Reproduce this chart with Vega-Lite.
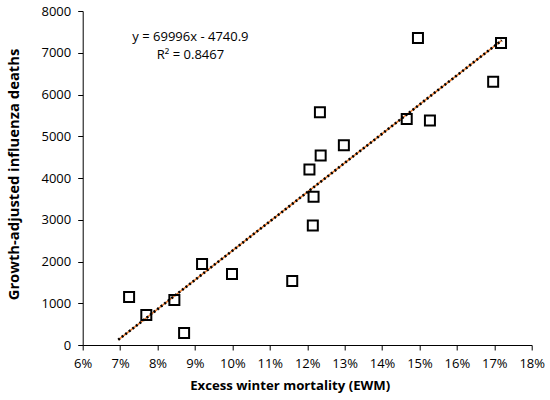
{
  "$schema": "https://vega.github.io/schema/vega-lite/v6.json",
  "width": 449,
  "height": 334,
  "autosize": "none",
  "padding": {"left": 82.7, "top": 11, "right": 18.3, "bottom": 55},
  "background": "white",
  "config": {
    "view": {"stroke": null},
    "font": "Open Sans",
    "axis": {
      "grid": false,
      "domainColor": "#000000",
      "tickColor": "#000000",
      "labelColor": "#000000",
      "titleColor": "#000000",
      "labelFont": "Open Sans",
      "titleFont": "Open Sans",
      "labelFontSize": 13,
      "labelOverlap": false,
      "labelFlush": false,
      "titleFontWeight": "bold",
      "tickSize": 5,
      "domainWidth": 1,
      "tickWidth": 1
    }
  },
  "datasets": {
    "points": [
      {"ewm": 0.0724, "deaths": 1148},
      {"ewm": 0.0770, "deaths": 718},
      {"ewm": 0.0845, "deaths": 1077},
      {"ewm": 0.0871, "deaths": 287},
      {"ewm": 0.0919, "deaths": 1938},
      {"ewm": 0.0999, "deaths": 1699},
      {"ewm": 0.1160, "deaths": 1531},
      {"ewm": 0.1206, "deaths": 4203},
      {"ewm": 0.1217, "deaths": 3548},
      {"ewm": 0.1215, "deaths": 2864},
      {"ewm": 0.1234, "deaths": 5574},
      {"ewm": 0.1236, "deaths": 4538},
      {"ewm": 0.1298, "deaths": 4785},
      {"ewm": 0.1466, "deaths": 5414},
      {"ewm": 0.1496, "deaths": 7352},
      {"ewm": 0.1528, "deaths": 5375},
      {"ewm": 0.1697, "deaths": 6308},
      {"ewm": 0.1718, "deaths": 7232}
    ],
    "trend": [
      {"ewm": 0.0695, "deaths": 124},
      {"ewm": 0.1720, "deaths": 7298}
    ],
    "labels": [
      {"ewm": 0.0888, "deaths": 7368, "text": "y = 69996x - 4740.9"},
      {"ewm": 0.0888, "deaths": 6935, "text": "R² = 0.8467"}
    ]
  },
  "encoding": {
    "x": {
      "field": "ewm",
      "type": "quantitative",
      "scale": {"domain": [0.06, 0.18], "nice": false, "zero": false},
      "axis": {
        "title": "Excess winter mortality (EWM)",
        "titleFontSize": 13.2,
        "titleX": 207,
        "format": ".0%",
        "values": [0.06, 0.07, 0.08, 0.09, 0.10, 0.11, 0.12, 0.13, 0.14, 0.15, 0.16, 0.17, 0.18],
        "labelPadding": 7,
        "titlePadding": 9
      }
    },
    "y": {
      "field": "deaths",
      "type": "quantitative",
      "scale": {"domain": [0, 8000], "nice": false},
      "axis": {
        "title": "Growth-adjusted influenza deaths",
        "titleFontSize": 14.8,
        "titleY": 163,
        "values": [0, 1000, 2000, 3000, 4000, 5000, 6000, 7000, 8000],
        "format": "d",
        "labelPadding": 7,
        "titlePadding": 19
      }
    }
  },
  "layer": [
    {
      "data": {"name": "trend"},
      "mark": {"type": "line", "color": "#ED7D31", "strokeWidth": 1.5},
      "encoding": {}
    },
    {
      "data": {"name": "trend"},
      "mark": {"type": "line", "color": "#000000", "strokeWidth": 2.6, "strokeDash": [2, 2.5]},
      "encoding": {}
    },
    {
      "data": {"name": "points"},
      "mark": {"type": "point", "shape": "square", "size": 100, "filled": false, "stroke": "#000000", "strokeWidth": 2, "opacity": 1}
    },
    {
      "data": {"name": "labels"},
      "mark": {"type": "text", "font": "Open Sans", "fontSize": 13, "color": "#000000", "align": "center", "baseline": "middle"},
      "encoding": {"text": {"field": "text"}}
    }
  ]
}
